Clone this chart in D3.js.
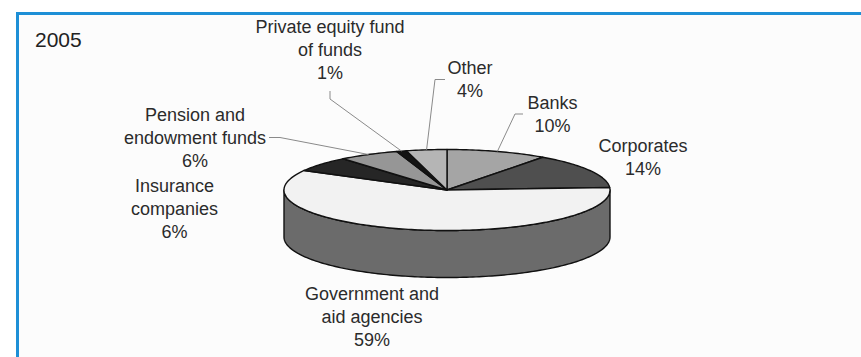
<!DOCTYPE html>
<html>
<head>
<meta charset="utf-8">
<script src="https://cdn.jsdelivr.net/npm/d3@7"></script>
<style>
  html, body { margin: 0; padding: 0; background: #ffffff; }
  svg { display: block; }
  text { font-family: "Liberation Sans", Arial, sans-serif; }
</style>
</head>
<body>
<svg id="chart" width="861" height="357"></svg>
<script>
// Investor categories, in clockwise order from 12 o'clock
const categories = [
  "Banks", "Corporates", "Government and aid agencies", "Insurance companies",
  "Pension and endowment funds", "Private equity fund of funds", "Other"
];
// Share of funds raised (%)
const shares = [10, 14, 59, 6, 6, 1, 4];
// Label text split onto lines
const labelLines = [
  ["Banks"], ["Corporates"], ["Government and", "aid agencies"], ["Insurance", "companies"],
  ["Pension and", "endowment funds"], ["Private equity fund", "of funds"], ["Other"]
];
const yearLabel = "2005";

// Slice fills: top face and extruded side
const topFill  = ["#a5a5a5", "#4f4f4f", "#f2f2f2", "#262626", "#969696", "#141414", "#b5b5b5"];
const sideFill = ["#7a7a7a", "#3a3a3a", "#6b6b6b", "#1c1c1c", "#707070", "#0e0e0e", "#888888"];

// Label placement: centre x, first baseline y, optional leader elbow points
const labelPos = {
  "Banks":                        { x: 552.5, y: 108.5, leader: [[523, 114], [515, 114]] },
  "Corporates":                   { x: 643,   y: 152 },
  "Government and aid agencies":  { x: 372,   y: 299.5 },
  "Insurance companies":          { x: 174.5, y: 191.5 },
  "Pension and endowment funds":  { x: 195,   y: 120.5, leader: [[269, 137.5], [280, 137.5]] },
  "Private equity fund of funds": { x: 330,   y: 33,    leader: [[330, 91], [330, 99]] },
  "Other":                        { x: 470,   y: 73.5,  leader: [[445, 79.5], [435, 79.5]] }
};
const lineHeight = 23;

const svg = d3.select("#chart");

// Panel frame
svg.append("rect").attr("x", 18).attr("y", 14).attr("width", 843).attr("height", 343).attr("fill", "#fcfcfc");
svg.append("line").attr("x1", 16).attr("x2", 861).attr("y1", 13.5).attr("y2", 13.5)
  .attr("stroke", "#1d8fd6").attr("stroke-width", 3);
svg.append("line").attr("x1", 17.5).attr("x2", 17.5).attr("y1", 12).attr("y2", 357)
  .attr("stroke", "#1d8fd6").attr("stroke-width", 3);

svg.append("text").attr("x", 35).attr("y", 47).attr("font-size", 21).attr("fill", "#222")
  .text(yearLabel);

// Tilted pie geometry
const cx = 447, cy = 190, rx = 163, ry = 40.5, depth = 47;
const px = a => cx + rx * Math.sin(a);
const py = a => cy - ry * Math.cos(a);

const data = categories.map((c, i) => ({ name: c, value: shares[i], i }));
const arcs = d3.pie().value(d => d.value).sort(null).startAngle(0).endAngle(2 * Math.PI)(data);

function rimPoints(a0, a1) {
  const n = Math.max(2, Math.ceil((a1 - a0) / 0.02));
  return d3.range(n + 1).map(k => a0 + (a1 - a0) * k / n);
}
const line = d3.line();

const pieG = svg.append("g");

// Side walls: only the front half of the rim (pi/2 .. 3pi/2) is visible
arcs.forEach(d => {
  const a0 = Math.max(d.startAngle, Math.PI / 2);
  const a1 = Math.min(d.endAngle, 3 * Math.PI / 2);
  if (a1 <= a0) return;
  const angles = rimPoints(a0, a1);
  const upper = angles.map(a => [px(a), py(a)]);
  const lower = angles.slice().reverse().map(a => [px(a), py(a) + depth]);
  pieG.append("path")
    .attr("d", line(upper.concat(lower)) + "Z")
    .attr("fill", sideFill[d.data.i])
    .attr("stroke", "#111").attr("stroke-width", 1.4).attr("stroke-linejoin", "round");
});

// Top faces
arcs.forEach(d => {
  const pts = [[cx, cy]].concat(rimPoints(d.startAngle, d.endAngle).map(a => [px(a), py(a)]));
  pieG.append("path")
    .attr("d", line(pts) + "Z")
    .attr("fill", topFill[d.data.i])
    .attr("stroke", "#111").attr("stroke-width", 1.4).attr("stroke-linejoin", "round");
});

// Leader lines to the rim at each slice's mid-angle
arcs.forEach(d => {
  const lp = labelPos[d.data.name];
  if (!lp.leader) return;
  const mid = (d.startAngle + d.endAngle) / 2;
  const pts = lp.leader.concat([[px(mid), py(mid)]]);
  svg.append("path").attr("d", line(pts)).attr("fill", "none")
    .attr("stroke", "#8a8a8a").attr("stroke-width", 1);
});

// Labels
arcs.forEach(d => {
  const lp = labelPos[d.data.name];
  const lines = labelLines[d.data.i].concat([d.data.value + "%"]);
  const t = svg.append("text").attr("text-anchor", "middle").attr("font-size", 18).attr("fill", "#2b2b2b");
  lines.forEach((s, k) => {
    t.append("tspan").attr("x", lp.x).attr("y", lp.y + k * lineHeight).text(s);
  });
});
</script>
</body>
</html>
